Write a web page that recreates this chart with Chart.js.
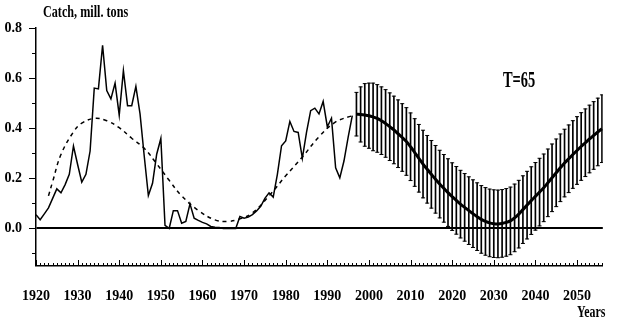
<!DOCTYPE html>
<html>
<head>
<meta charset="utf-8">
<title>Catch forecast</title>
<script src="https://cdn.jsdelivr.net/npm/chart.js@4.4.1/dist/chart.umd.min.js"></script>
<style>
  html, body { margin: 0; padding: 0; background: #fff; }
  #wrap { position: relative; width: 624px; height: 323px; }
  canvas { display: block; }
  .lbl {
    position: absolute;
    font-family: "Liberation Serif", "Times New Roman", serif;
    font-weight: bold;
    color: #000;
    white-space: nowrap;
    transform-origin: 0 0;
  }
  #yTitle { left: 43px; top: 4px; font-size: 16px; line-height: 16px; transform: scaleX(0.76); }
  #periodLabel { left: 503px; top: 67px; font-size: 24px; line-height: 24px; transform: scaleX(0.6); }
  #xTitle { left: 577px; top: 303px; font-size: 17px; line-height: 17px; transform: scaleX(0.7); }
</style>
</head>
<body>
<div id="wrap">
  <canvas id="catchChart" width="624" height="323"></canvas>
  <div class="lbl" id="yTitle">Catch, mill. tons</div>
  <div class="lbl" id="periodLabel">T=65</div>
  <div class="lbl" id="xTitle">Years</div>
</div>
<script>
// observed catch, mill. tons
const catchYears = [
  1920, 1921, 1922, 1923, 1924, 1925, 1926, 1927, 1928, 1929,
  1930, 1931, 1932, 1933, 1934, 1935, 1936, 1937, 1938, 1939,
  1940, 1941, 1942, 1943, 1944, 1945, 1946, 1947, 1948, 1949,
  1950, 1951, 1952, 1953, 1954, 1955, 1956, 1957, 1958, 1959,
  1960, 1961, 1962, 1963, 1964, 1965, 1966, 1967, 1968, 1969,
  1970, 1971, 1972, 1973, 1974, 1975, 1976, 1977, 1978, 1979,
  1980, 1981, 1982, 1983, 1984, 1985, 1986, 1987, 1988, 1989,
  1990, 1991, 1992, 1993, 1994, 1995, 1996
];
const catchValues = [
  0.055, 0.035, 0.058, 0.082, 0.12, 0.158, 0.142, 0.175, 0.216, 0.329,
  0.255, 0.185, 0.216, 0.309, 0.56, 0.557, 0.731, 0.55, 0.517, 0.58,
  0.452, 0.63, 0.49, 0.49, 0.567, 0.457, 0.29, 0.131, 0.18, 0.296,
  0.359, 0.012, 0.0, 0.071, 0.071, 0.021, 0.028, 0.098, 0.041, 0.032,
  0.024, 0.018, 0.008, 0.005, 0.004, 0.0, 0.0, 0.0, 0.0, 0.048,
  0.041, 0.045, 0.055, 0.07, 0.088, 0.12, 0.142, 0.125, 0.216, 0.33,
  0.349, 0.427, 0.387, 0.383, 0.28, 0.383, 0.47, 0.48, 0.457, 0.507,
  0.406, 0.44, 0.242, 0.202, 0.269, 0.363, 0.45
];

// smoothed trend (dashed)
const trendYears = [
  1923, 1924, 1926, 1929, 1931, 1934, 1937, 1940, 1943, 1946, 1949, 1952,
  1955, 1959, 1963, 1966, 1969, 1972, 1976, 1980, 1984, 1988, 1992, 1996
];
const trendValues = [
  0.13, 0.187, 0.295, 0.385, 0.42, 0.439, 0.43, 0.402, 0.36, 0.32, 0.258, 0.192,
  0.13, 0.072, 0.034, 0.028, 0.038, 0.062, 0.13, 0.21, 0.285, 0.366, 0.425, 0.45
];

// forecast with T=65 and its error
const forecastYears = [
  1997, 1998, 1999, 2000, 2001, 2002, 2003, 2004, 2005, 2006,
  2007, 2008, 2009, 2010, 2011, 2012, 2013, 2014, 2015, 2016,
  2017, 2018, 2019, 2020, 2021, 2022, 2023, 2024, 2025, 2026,
  2027, 2028, 2029, 2030, 2031, 2032, 2033, 2034, 2035, 2036,
  2037, 2038, 2039, 2040, 2041, 2042, 2043, 2044, 2045, 2046,
  2047, 2048, 2049, 2050, 2051, 2052, 2053, 2054, 2055, 2056
];
const forecastValues = [
  0.456, 0.455, 0.453, 0.45, 0.445, 0.439, 0.43, 0.419, 0.406, 0.393,
  0.378, 0.363, 0.347, 0.326, 0.303, 0.28, 0.257, 0.236, 0.216, 0.196,
  0.177, 0.16, 0.143, 0.127, 0.112, 0.097, 0.084, 0.071, 0.059, 0.047,
  0.036, 0.028, 0.022, 0.019, 0.018, 0.02, 0.024, 0.03, 0.042, 0.057,
  0.075, 0.093, 0.111, 0.128, 0.145, 0.162, 0.182, 0.202, 0.222, 0.242,
  0.261, 0.278, 0.295, 0.311, 0.327, 0.342, 0.357, 0.371, 0.385, 0.398
];
const forecastError = [
  0.087, 0.11, 0.125, 0.13, 0.135, 0.135, 0.135, 0.135, 0.135, 0.135,
  0.135, 0.135, 0.135, 0.135, 0.135, 0.135, 0.135, 0.135, 0.135, 0.135,
  0.135, 0.135, 0.135, 0.135, 0.135, 0.135, 0.135, 0.135, 0.135, 0.135,
  0.135, 0.135, 0.135, 0.135, 0.135, 0.135, 0.135, 0.135, 0.135, 0.135,
  0.135, 0.135, 0.135, 0.135, 0.135, 0.135, 0.135, 0.135, 0.135, 0.135,
  0.135, 0.135, 0.135, 0.135, 0.135, 0.135, 0.135, 0.135, 0.135, 0.135
];

const Y_MIN = -0.15;
const Y_MAX = 0.8;
const X_MIN = 1920;
const X_MAX = 2056.2;

const toPoints = (xs, ys) => xs.map((x, i) => ({ x: x, y: ys[i] }));

const errorRanges = forecastYears.map((yr, i) => ({
  x: yr,
  y: [forecastValues[i] - forecastError[i], forecastValues[i] + forecastError[i]]
}));
const errorCaps = forecastYears.flatMap((yr, i) => [
  { x: yr, y: forecastValues[i] - forecastError[i] },
  { x: yr, y: forecastValues[i] + forecastError[i] }
]);

// inward ticks on the year axis, outward ticks on the catch axis
const tickMarks = {
  id: "tickMarks",
  afterDraw(chart) {
    const { ctx, chartArea } = chart;
    const xScale = chart.scales.x;
    const yScale = chart.scales.y;
    ctx.save();
    ctx.strokeStyle = "#000";
    ctx.lineWidth = 1;
    ctx.beginPath();
    xScale.ticks.forEach(tick => {
      if (Math.abs(tick.value - Math.round(tick.value)) > 1e-6) return;
      const px = Math.round(xScale.getPixelForValue(tick.value)) + 0.5;
      const len = Math.round(tick.value) % 10 === 0 ? 6 : 3;
      ctx.moveTo(px, chartArea.bottom);
      ctx.lineTo(px, chartArea.bottom - len);
    });
    yScale.ticks.forEach(tick => {
      const tenths = Math.round(tick.value * 10);
      if (Math.abs(tick.value * 10 - tenths) > 1e-6) return;
      const py = Math.round(yScale.getPixelForValue(tick.value)) + 0.5;
      const len = tenths % 2 === 0 ? 7 : 4;
      ctx.moveTo(chartArea.left, py);
      ctx.lineTo(chartArea.left - len, py);
    });
    ctx.stroke();
    ctx.restore();
  }
};

const tickFont = { family: "'Liberation Serif', 'Times New Roman', serif", weight: "bold", size: 14 };

new Chart(document.getElementById("catchChart"), {
  type: "line",
  data: {
    datasets: [
      {
        type: "line",
        label: "Forecast",
        data: toPoints(forecastYears, forecastValues),
        borderColor: "#000",
        borderWidth: 3,
        pointRadius: 0,
        tension: 0.3,
        order: 0
      },
      {
        type: "line",
        label: "Catch",
        data: toPoints(catchYears, catchValues),
        borderColor: "#000",
        borderWidth: 1.5,
        pointRadius: 0,
        tension: 0,
        order: 1
      },
      {
        type: "line",
        label: "Trend",
        data: toPoints(trendYears, trendValues),
        borderColor: "#000",
        borderWidth: 1.5,
        borderDash: [4, 4],
        pointRadius: 0,
        tension: 0.4,
        order: 1
      },
      {
        type: "bar",
        label: "Error",
        data: errorRanges,
        backgroundColor: "#000",
        borderWidth: 0,
        barThickness: 1,
        order: 2
      },
      {
        type: "scatter",
        label: "Caps",
        data: errorCaps,
        pointStyle: "line",
        pointRadius: 2,
        borderColor: "#000",
        borderWidth: 1,
        order: 2
      }
    ]
  },
  options: {
    responsive: false,
    animation: false,
    layout: { padding: { top: 28, right: 11, left: 0, bottom: 0 } },
    plugins: {
      legend: { display: false },
      tooltip: { enabled: false }
    },
    scales: {
      x: {
        type: "linear",
        min: X_MIN,
        max: X_MAX,
        offset: false,
        afterFit: scale => { scale.height = 57; },
        grid: { display: false, drawTicks: false },
        border: { display: true, color: "#000", width: 1.5 },
        ticks: {
          stepSize: 1,
          maxTicksLimit: 300,
          autoSkip: false,
          includeBounds: false,
          maxRotation: 0,
          padding: 22,
          color: "#000",
          font: tickFont,
          callback: value => (Math.round(value) % 10 === 0 ? String(Math.round(value)) : "")
        }
      },
      y: {
        type: "linear",
        min: Y_MIN,
        max: Y_MAX,
        afterFit: scale => { scale.width = 36; },
        grid: {
          drawTicks: false,
          color: ctx => (Math.abs(ctx.tick.value) < 1e-9 ? "#000" : "rgba(0,0,0,0)"),
          lineWidth: ctx => (Math.abs(ctx.tick.value) < 1e-9 ? 2 : 0)
        },
        border: { display: true, color: "#000", width: 1.5 },
        ticks: {
          stepSize: 0.1,
          autoSkip: false,
          includeBounds: false,
          padding: 14,
          color: "#000",
          font: tickFont,
          callback: value => {
            const tenths = Math.round(value * 10);
            return tenths >= 0 && tenths % 2 === 0 ? value.toFixed(1) : "";
          }
        }
      }
    }
  },
  plugins: [tickMarks]
});
</script>
</body>
</html>
